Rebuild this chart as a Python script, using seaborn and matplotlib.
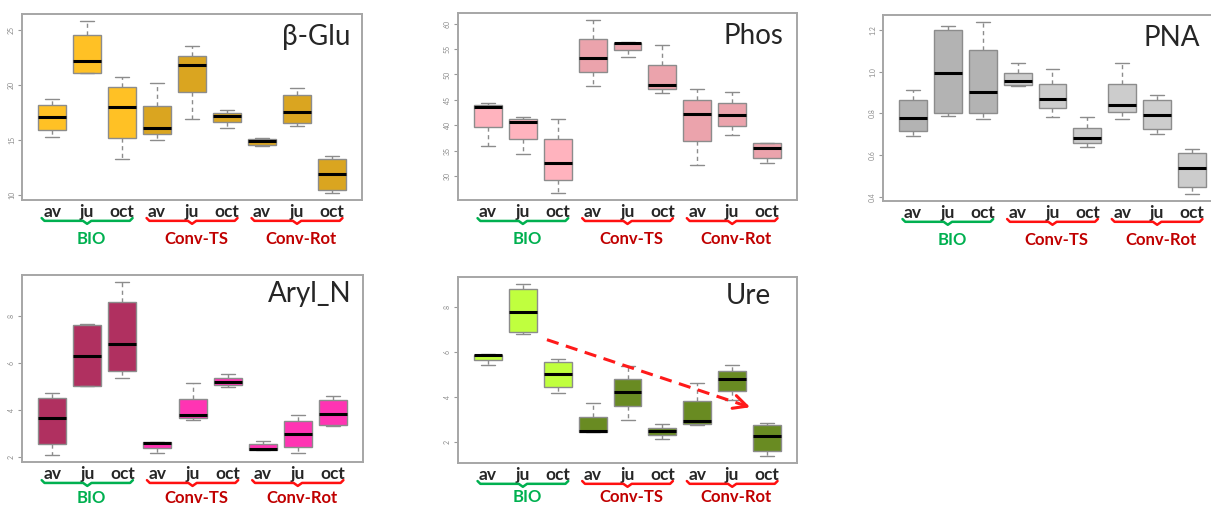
import numpy as np
import pandas as pd
import matplotlib.pyplot as plt
import seaborn as sns

sns.set_style('white')
plt.rcParams['font.family'] = ['Lato', 'DejaVu Sans']

months = ['av', 'ju', 'oct'] * 3
systems = ['BIO', 'Conv-TS', 'Conv-Rot']
system_colors = ['#00B050', '#C00000', '#C00000']
brace_colors = ['#00B050', '#FF1010', '#FF1010']

# five-number summaries read off each box: whisker low, Q1, median, Q3, whisker high
# order: BIO av/ju/oct, Conv-TS av/ju/oct, Conv-Rot av/ju/oct
beta_glu = [
    [15.27, 15.88, 17.06, 18.15, 18.70],
    [21.10, 21.12, 22.18, 24.58, 25.82],
    [13.30, 15.18, 18.00, 19.85, 20.76],
    [15.03, 15.55, 16.06, 18.09, 20.18],
    [16.91, 19.33, 21.79, 22.67, 23.55],
    [16.09, 16.61, 17.15, 17.42, 17.70],
    [14.42, 14.58, 14.88, 15.12, 15.18],
    [16.30, 16.52, 17.58, 19.06, 19.70],
    [10.18, 10.45, 11.88, 13.30, 13.58],
]
phos = [
    [35.86, 39.61, 43.68, 44.08, 44.34],
    [34.41, 37.30, 40.66, 41.32, 41.58],
    [26.71, 29.21, 32.57, 37.24, 41.25],
    [47.76, 50.53, 53.29, 57.04, 60.72],
    [53.36, 54.74, 56.12, 56.18, 56.38],
    [46.32, 47.11, 47.96, 51.84, 55.86],
    [32.17, 36.97, 42.24, 45.00, 47.24],
    [38.09, 39.87, 41.97, 44.41, 46.64],
    [32.57, 33.55, 35.53, 36.51, 36.64],
]
pna = [
    [0.691, 0.716, 0.776, 0.863, 0.911],
    [0.789, 0.800, 0.996, 1.200, 1.221],
    [0.771, 0.800, 0.901, 1.105, 1.239],
    [0.932, 0.938, 0.953, 0.994, 1.041],
    [0.781, 0.827, 0.871, 0.941, 1.012],
    [0.641, 0.660, 0.683, 0.731, 0.781],
    [0.771, 0.806, 0.842, 0.941, 1.041],
    [0.700, 0.726, 0.790, 0.863, 0.890],
    [0.413, 0.445, 0.537, 0.610, 0.631],
]
aryl_n = [
    [2.07, 2.53, 3.65, 4.52, 4.71],
    [5.01, 5.02, 6.32, 7.64, 7.68],
    [5.38, 5.65, 6.83, 8.60, 9.48],
    [2.17, 2.39, 2.60, 2.62, 2.62],
    [3.57, 3.67, 3.78, 4.46, 5.15],
    [4.96, 5.05, 5.18, 5.37, 5.55],
    [2.29, 2.29, 2.35, 2.53, 2.65],
    [2.17, 2.40, 2.98, 3.53, 3.77],
    [3.32, 3.35, 3.81, 4.42, 4.59],
]
ure = [
    [5.43, 5.66, 5.86, 5.89, 5.92],
    [6.80, 6.90, 7.78, 8.81, 9.04],
    [4.21, 4.44, 5.05, 5.58, 5.71],
    [2.46, 2.46, 2.49, 3.13, 3.75],
    [2.98, 3.60, 4.24, 4.81, 5.37],
    [2.16, 2.34, 2.52, 2.65, 2.80],
    [2.77, 2.82, 2.97, 3.83, 4.62],
    [3.86, 4.29, 4.82, 5.18, 5.43],
    [1.39, 1.63, 2.27, 2.77, 2.86],
]

# trend arrow in the Ure panel (start, end) in data units
ure_arrow_start = (1.69, 6.56)
ure_arrow_end = (7.59, 3.52)

panels = [
    # name, data, (BIO colour, Conv colour), yticks, ytick labels, axes rect [l, b, w, h], title x/y, group label y
    ('β-Glu', beta_glu, ('#FFC125', '#DAA520'), [10, 15, 20, 25], ['10', '15', '20', '25'],
     [0.0182, 0.6055, 0.2808, 0.3669], 0.965, 0.876, -0.21),
    ('Phos', phos, ('#FFB3BE', '#EBA3AC'), [30, 35, 40, 45, 50, 55, 60],
     ['30', '35', '40', '45', '50', '55', '60'],
     [0.3782, 0.6055, 0.2800, 0.3690], 0.96, 0.876, -0.21),
    ('PNA', pna, ('#B3B3B3', '#CCCCCC'), [0.4, 0.6, 0.8, 1.0, 1.2], ['0.4', '0.6', '0.8', '1.0', '1.2'],
     [0.7291, 0.6036, 0.2800, 0.3669], 0.935, 0.876, -0.21),
    ('Aryl_N', aryl_n, ('#B03060', '#FF34B3'), [2, 4, 6, 8], ['2', '4', '6', '8'],
     [0.0182, 0.0888, 0.2816, 0.3690], 0.965, 0.90, -0.19),
    ('Ure', ure, ('#C0FF3E', '#698B22'), [2, 4, 6, 8], ['2', '4', '6', '8'],
     [0.3782, 0.0868, 0.2800, 0.3669], 0.923, 0.90, -0.185),
]

fig = plt.figure(figsize=(12.11, 5.07), dpi=100)

for name, boxes, (c_bio, c_conv), yt, ytl, rect, tx, ty, gy in panels:
    ax = fig.add_axes(rect)
    rows = []
    for i, b in enumerate(boxes):
        for v in b:
            rows.append({'box': str(i), 'value': v})
    df = pd.DataFrame(rows)
    cols = [c_bio] * 3 + [c_conv] * 6
    sns.boxplot(data=df, x='box', y='value', hue='box', palette=cols, saturation=1,
                width=0.8, whis=(0, 100), showfliers=False, linecolor='#8C8C8C',
                linewidth=1, legend=False, ax=ax,
                medianprops=dict(color='black', linewidth=2.2),
                whiskerprops=dict(color='#8C8C8C', linestyle=(0, (3, 2.5))))

    lo = min(b[0] for b in boxes)
    hi = max(b[4] for b in boxes)
    r = hi - lo
    ax.set_ylim(lo - 0.04 * r, hi + 0.04 * r)
    ax.set_xlim(-0.86, 8.86)
    ax.set_xlabel('')
    ax.set_ylabel('')

    ax.set_xticks(range(9))
    ax.set_xticklabels(months, fontweight='bold', fontsize=12.5)
    ax.tick_params(axis='x', length=0, pad=3)
    ax.set_yticks(yt)
    ax.set_yticklabels(ytl, rotation=90, va='center', fontsize=5, color='#8C8C8C')
    ax.tick_params(axis='y', length=3, width=0.8, color='#999999', pad=2, left=True)
    for s in ax.spines.values():
        s.set_color('#A6A6A6')
        s.set_linewidth(1.4)

    ax.text(tx, ty, name, transform=ax.transAxes, ha='right', va='center', fontsize=20)

    # curly braces and group names under the month labels
    trans = ax.get_xaxis_transform()
    for g, sys_name in enumerate(systems):
        xc = 3 * g + 1
        x0, x1 = xc - 1.3, xc + 1.3
        yb_top, yb_mid, yb_tip = -0.097, -0.112, -0.128
        bx = [x0, x0 + 0.08, xc - 0.12, xc, xc + 0.12, x1 - 0.08, x1]
        by = [yb_top, yb_mid, yb_mid, yb_tip, yb_mid, yb_mid, yb_top]
        ax.plot(bx, by, color=brace_colors[g], lw=1.8, transform=trans, clip_on=False,
                solid_joinstyle='round', solid_capstyle='round')
        ax.text(xc + 0.12, gy, sys_name, transform=trans, ha='center', va='center',
                fontsize=12, fontweight='bold', color=system_colors[g])

    if name == 'Ure':
        (xs, ys), (xe, ye) = ure_arrow_start, ure_arrow_end
        ax.plot([xs, xe], [ys, ye], color='#FF1A1A', lw=2.2, dashes=(4, 2.5))
        ax.annotate('', xy=(xe, ye), xytext=(xe - 0.3, ye + 0.155),
                    arrowprops=dict(arrowstyle='->', color='#FF1A1A', lw=2.2,
                                    mutation_scale=24))

fig.savefig('out.png', dpi=100)
